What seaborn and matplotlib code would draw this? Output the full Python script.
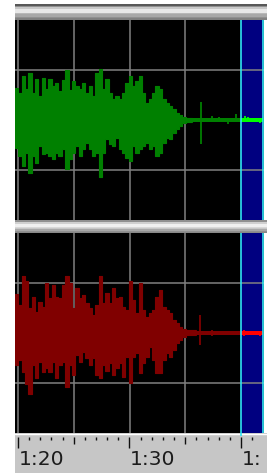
import numpy as np
import pandas as pd
import seaborn as sns
import matplotlib

matplotlib.use("Agg")
import matplotlib.pyplot as plt

# ---- data (amplitude in % of half scale, time in s) ----
env_t0 = 79.73
env_dt = 0.3

green_top = [32, 27, 44, 31, 47, 27, 41, 24, 42, 31, 41, 34, 37, 29, 40, 51, 30, 39, 34, 31, 37, 27, 34, 24, 47, 52,
             31, 41, 27, 21, 24, 21, 27, 37, 44, 34, 39, 44, 27, 17, 21, 27, 34, 31, 21, 17, 14, 11, 7, 5, 3, 2, 2]
green_bot = [28, 36, 46, 33, 54, 36, 43, 26, 34, 33, 36, 39, 33, 36, 29, 49, 39, 33, 26, 36, 29, 23, 29, 36, 33, 58,
             33, 19, 24, 26, 18, 29, 33, 38, 41, 26, 33, 29, 26, 23, 29, 26, 36, 33, 23, 18, 19, 13, 9, 6, 3, 2, 2]

red_top = [39, 28, 58, 53, 25, 36, 21, 31, 26, 50, 35, 48, 36, 35, 48, 58, 51, 25, 45, 35, 38, 30, 25, 18, 28, 58, 30,
           40, 30, 45, 35,
           36, 26, 23, 53, 33, 20, 50, 23, 16, 20, 23, 36, 43, 26, 23, 20, 13, 10, 6, 4, 3, 3, 3]
red_bot = [32, 27, 39, 52, 62, 32, 45, 29, 39, 35, 39, 29, 45, 32, 29, 55, 32, 42, 22, 29, 19, 25, 32, 25, 42, 45, 32,
           38, 30, 42, 35,
           30, 44, 24, 50, 24, 20, 40, 30, 24, 14, 27, 40, 40, 27, 20, 24, 17, 10, 7, 4, 2, 2, 2]

# isolated clicks in the quiet tail: time, up, down
green_clicks_t = [96.41, 97.40, 98.03, 98.83, 99.55, 100.36, 100.63, 101.70]
green_clicks_up = [18, 4, 3, 2, 6, 4, 3, 2]
green_clicks_dn = [24, 2, 2, 4, 2, 2, 2, 3]
red_clicks_t = [96.32, 97.40, 98.30, 99.46, 100.27, 101.08, 101.70]
red_clicks_up = [18, 3, 2, 2, 3, 2, 2]
red_clicks_dn = [12, 3, 2, 2, 3, 2, 3]

tail_level = 2
sel_start, sel_end = 100.0, 101.95
grid_times = [80, 85, 90, 95]
grid_levels = [-51, 51]
# the last label is cut by the window edge in the screenshot
ruler_labels = ["1:20", "1:30", "1:"]
ruler_label_times = [80, 90, 100]

header_rows = [0x58, 0x58, 0x90, 0xc8, 0xc8, 0xe8, 0xe8, 0xe8, 0xe8, 0xb8, 0xa8, 0xa8, 0xa8, 0x90, 0x80, 0x80]
sep_rows = [0x90, 0x90, 0xd0, 0xd0, 0xf0, 0xf0, 0xf0, 0xd8, 0xc8, 0xa8, 0xa8, 0x90, 0x88]

# ---- layout ----
W, H = 267, 473
sns.set_theme(style="white")
plt.rcParams["font.family"] = ["DejaVu Sans"]
fig = plt.figure(figsize=(W / 100, H / 100), dpi=100)
fig.patch.set_facecolor("white")


def px_axes(x0, y0, x1, y1):
    return fig.add_axes([x0 / W, 1 - y1 / H, (x1 - x0) / W, (y1 - y0) / H])


def px_to_t(px):
    return 80 + (px - 18) / 11.15


def bare(ax):
    ax.set_xticks([])
    ax.set_yticks([])
    for s in ax.spines.values():
        s.set_visible(False)


def gradient_bar(ax, rows):
    img = np.repeat(np.array(rows, dtype=float)[:, None] / 255.0, 3, axis=1)[:, None, :]
    ax.imshow(img, aspect="auto", interpolation="nearest", extent=(0, 1, 0, 1))
    bare(ax)


def draw_panel(ax, top, bot, dark, bright, clicks_t, clicks_up, clicks_dn):
    ax.set_facecolor("black")
    ax.set_xlim(px_to_t(15), px_to_t(263.5))
    ax.set_ylim(-101, 101)
    ax.axvspan(sel_start, sel_end, color="#000080", lw=0, zorder=0)
    for t in grid_times:
        ax.axvline(t, color="#808080", lw=1.1, zorder=1)
    for a in grid_levels:
        ax.axhline(a, color="#808080", lw=1.1, zorder=1)

    t = env_t0 + env_dt * np.arange(len(top) + 1)
    df = pd.DataFrame({"t": t, "up": np.append(top, top[-1]), "dn": -np.append(bot, bot[-1])})
    ax.fill_between(df["t"], df["dn"], df["up"], step="post", color=dark, lw=0, zorder=3)
    sns.lineplot(data=df, x="t", y="up", drawstyle="steps-post", color=dark, lw=0.8, ax=ax, zorder=3)
    sns.lineplot(data=df, x="t", y="dn", drawstyle="steps-post", color=dark, lw=0.8, ax=ax, zorder=3)

    tail_end = t[-1]
    ax.fill_between([tail_end, sel_start], -tail_level, tail_level, color=dark, lw=0, zorder=3)
    ax.fill_between([sel_start, sel_end], -tail_level, tail_level, color=bright, lw=0, zorder=3)
    for ct, cu, cd in zip(clicks_t, clicks_up, clicks_dn):
        ax.vlines(ct, -cd, cu, color=bright if ct > sel_start else dark, lw=1.3, zorder=3)

    for s in (sel_start, sel_end):
        ax.axvline(s, color="#30e4f2", lw=1.2, zorder=5)
    ax.set_xlabel("")
    ax.set_ylabel("")
    bare(ax)


# header and separator bars
gradient_bar(px_axes(15, 4, 267, 20), header_rows)
gradient_bar(px_axes(15, 220, 267, 233), sep_rows)

ax_top = px_axes(15, 20, 263.5, 220)
draw_panel(ax_top, green_top, green_bot, "#008000", "#00ff00",
           green_clicks_t, green_clicks_up, green_clicks_dn)
ax_bot = px_axes(15, 233, 263.5, 433)
draw_panel(ax_bot, red_top, red_bot, "#800000", "#ff0000",
           red_clicks_t, red_clicks_up, red_clicks_dn)

# time ruler
ax_r = px_axes(15, 433, 267, 473)
ax_r.set_facecolor("#c6c6c6")
ax_r.set_xlim(px_to_t(15), px_to_t(267))
ax_r.set_ylim(473, 433)
bare(ax_r)
ax_r.axhline(434.3, color="white", lw=1.0)
ax_r.vlines(sel_start, 433, 435.5, color="#30e4f2", lw=1.2)
for sec in np.arange(80, 102):
    if sec % 10 == 0:
        end = 448
    elif sec % 5 == 0:
        end = 443.5
    else:
        end = 440
    ax_r.vlines(sec, 437, end, color="#101010", lw=1.0)

for lab, lt in zip(ruler_labels, ruler_label_times):
    ax_r.text(lt + 0.05, 465, lab, fontsize=14.6, color="#1c1c1c",
              ha="left", va="baseline", family=["DejaVu Sans"])

fig.savefig("out.png", dpi=100)
